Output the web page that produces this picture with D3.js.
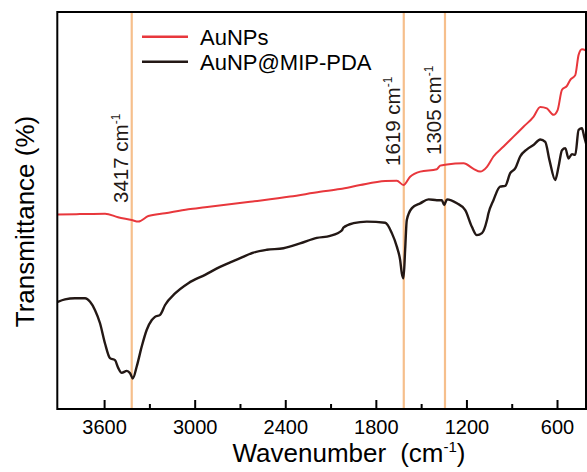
<!DOCTYPE html>
<html>
<head>
<meta charset="utf-8">
<script src="https://cdn.jsdelivr.net/npm/d3@7"></script>
<style>
  body { margin: 0; background: #fff; }
  svg { display: block; font-family: "Liberation Sans", Arial, sans-serif; }
</style>
</head>
<body>
<div id="chart"></div>
<script>
// AuNPs spectrum (wavenumber cm-1, relative transmittance)
const auWave = [3907, 3760, 3594, 3508, 3417, 3373, 3307, 3196, 3042, 2931, 2633, 2368, 2169, 2037, 1904, 1738, 1661, 1617, 1573, 1506, 1396, 1374, 1329, 1219, 1153, 1109, 1064, 1021, 954, 888, 822, 756, 711, 667, 623, 596, 567, 534, 512, 479, 457, 435, 408];
const auT    = [49.0, 49.1, 49.2, 48.3, 47.6, 47.2, 48.6, 49.3, 50.3, 50.8, 52.2, 53.5, 54.7, 55.4, 56.4, 57.4, 57.5, 56.4, 58.5, 59.8, 60.4, 61.3, 61.6, 61.9, 60.5, 59.8, 61.0, 63.6, 66.1, 68.6, 71.1, 73.6, 76.1, 75.7, 74.1, 75.3, 80.4, 81.4, 82.9, 84.1, 89.2, 90.6, 90.3];

// AuNP@MIP-PDA spectrum
const mipWave = [3907, 3859, 3793, 3726, 3693, 3660, 3627, 3594, 3561, 3528, 3506, 3483, 3450, 3428, 3410, 3384, 3351, 3318, 3284, 3263, 3229, 3196, 3130, 3042, 2931, 2832, 2699, 2611, 2522, 2412, 2302, 2191, 2103, 2025, 2015, 1948, 1860, 1738, 1694, 1661, 1639, 1628, 1617, 1606, 1595, 1561, 1506, 1451, 1396, 1363, 1347, 1329, 1263, 1208, 1164, 1131, 1097, 1064, 1054, 1021, 977, 943, 910, 877, 844, 799, 756, 711, 678, 650, 612, 590, 567, 545, 524, 501, 479, 457, 435, 420, 408];
const mipT    = [27.0, 27.6, 27.9, 27.9, 27.0, 24.9, 21.6, 16.5, 12.8, 12.3, 10.3, 9.1, 9.6, 9.0, 7.7, 10.7, 15.7, 19.9, 22.4, 23.2, 23.7, 26.2, 29.1, 31.7, 33.8, 35.8, 38.0, 39.4, 40.1, 40.5, 41.7, 43.1, 43.6, 45.0, 45.7, 46.8, 47.2, 46.9, 44.3, 40.9, 37.5, 34.2, 32.9, 40.1, 47.6, 50.6, 51.8, 52.8, 52.6, 52.6, 51.4, 52.8, 51.8, 50.1, 45.9, 43.8, 44.3, 47.6, 49.3, 52.6, 56.0, 56.2, 59.4, 60.6, 63.6, 65.4, 66.5, 67.9, 67.3, 62.7, 57.7, 61.0, 65.2, 65.7, 63.1, 64.2, 64.0, 70.3, 70.7, 68.6, 66.9];

const seriesNames = ["AuNPs", "AuNP@MIP-PDA"];
const seriesColors = ["#e8373c", "#231815"];

// marked bands: where the guide line sits on the axis, and its label
const bandWave = [3417, 1615, 1342];
const bandLabels = ["3417", "1619", "1305"];

const majorTicks = [3600, 3000, 2400, 1800, 1200, 600];
const minorTicks = [3300, 2700, 2100, 1500, 900];

const W = 587, H = 472;
const plotLeft = 57.3, plotRight = 586, plotTop = 12, plotBottom = 409;

const svg = d3.select("#chart").append("svg")
    .attr("width", W)
    .attr("height", H);

const x = d3.scaleLinear().domain([3910, 408]).range([plotLeft, plotRight]);
const y = d3.scaleLinear().domain([0, 100]).range([plotBottom, plotTop]);

// guide lines
const bandLabelY = [203, 166, 155];
bandWave.forEach((w, i) => {
    svg.append("line")
        .attr("x1", x(w)).attr("x2", x(w))
        .attr("y1", plotTop).attr("y2", plotBottom)
        .attr("stroke", "#f6bf8c")
        .attr("stroke-width", 2.2);

    const t = svg.append("text")
        .attr("transform", `translate(${x(w) - 4},${bandLabelY[i]}) rotate(-90)`)
        .style("font-size", "20.5px")
        .style("fill", "#231815");
    t.append("tspan").text(bandLabels[i] + " cm");
    t.append("tspan").attr("dy", -8).style("font-size", "12px").text("-1");
});

// spectra
const line = d3.line()
    .x(d => x(d[0]))
    .y(d => y(d[1]))
    .curve(d3.curveMonotoneX);

const spectra = [d3.zip(auWave, auT), d3.zip(mipWave, mipT)];
spectra.forEach((pts, i) => {
    svg.append("path")
        .datum(pts)
        .attr("fill", "none")
        .attr("stroke", seriesColors[i])
        .attr("stroke-width", i === 0 ? 2 : 2.4)
        .attr("stroke-linejoin", "round")
        .attr("d", line);
});

// frame
svg.append("rect")
    .attr("x", plotLeft).attr("y", plotTop)
    .attr("width", plotRight - plotLeft).attr("height", plotBottom - plotTop)
    .attr("fill", "none")
    .attr("stroke", "#000")
    .attr("stroke-width", 2);

// x axis, ticks pointing inward
const xAxis = svg.append("g")
    .attr("transform", `translate(0,${plotBottom})`)
    .call(d3.axisBottom(x).tickValues(majorTicks).tickFormat(d3.format("d"))
        .tickSizeInner(-9).tickSizeOuter(0).tickPadding(11));
xAxis.select(".domain").remove();
xAxis.selectAll(".tick line").attr("stroke", "#000").attr("stroke-width", 2);
xAxis.selectAll("text")
    .style("font-size", "20px")
    .style("font-family", "'Liberation Sans', Arial, sans-serif")
    .style("fill", "#000");

const xMinor = svg.append("g")
    .attr("transform", `translate(0,${plotBottom})`)
    .call(d3.axisBottom(x).tickValues(minorTicks).tickSizeInner(-5).tickSizeOuter(0).tickFormat(""));
xMinor.select(".domain").remove();
xMinor.selectAll(".tick line").attr("stroke", "#000").attr("stroke-width", 2);

// axis titles
const xt = svg.append("text")
    .attr("x", 349)
    .attr("y", 462)
    .attr("text-anchor", "middle")
    .style("font-size", "26px")
    .style("fill", "#000");
xt.append("tspan").text("Wavenumber");
xt.append("tspan").attr("dx", 14).text("(cm");
xt.append("tspan").attr("dy", -10).style("font-size", "15px").text("-1");
xt.append("tspan").attr("dy", 10).text(")");

svg.append("text")
    .attr("transform", `translate(34,221.5) rotate(-90)`)
    .attr("text-anchor", "middle")
    .style("font-size", "26px")
    .style("fill", "#000")
    .text("Transmittance (%)");

// legend
const legend = svg.append("g").attr("transform", "translate(142,0)");
seriesNames.forEach((name, i) => {
    const row = legend.append("g").attr("transform", `translate(0,${36.7 + i * 25})`);
    row.append("line")
        .attr("x1", 0).attr("x2", 46)
        .attr("y1", 0).attr("y2", 0)
        .attr("stroke", seriesColors[i])
        .attr("stroke-width", 2.5);
    row.append("text")
        .attr("x", 58)
        .attr("y", 8.5)
        .style("font-size", "22px")
        .style("fill", "#000")
        .text(name);
});
</script>
</body>
</html>
